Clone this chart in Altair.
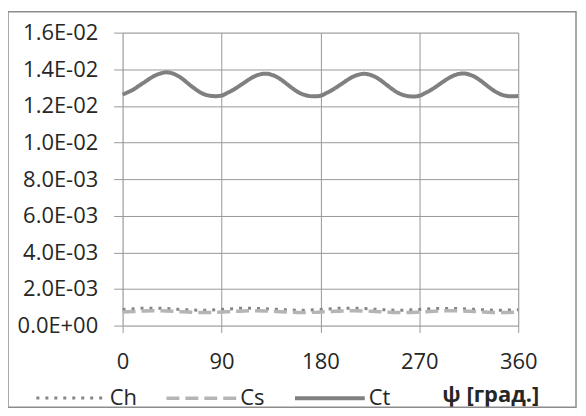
import altair as alt
import pandas as pd

# data
psi_ct = list(range(0, 365, 5))
ct_vals = [
    1.262, 1.275, 1.290, 1.310, 1.330, 1.350, 1.367, 1.378, 1.383, 1.378, 1.365, 1.345, 1.320, 1.297, 1.276, 1.262, 1.255, 1.253,
    1.256, 1.270, 1.285, 1.304, 1.324, 1.344, 1.361, 1.372, 1.376, 1.371, 1.359, 1.340, 1.317, 1.294, 1.274, 1.261, 1.254, 1.252,
    1.255, 1.269, 1.284, 1.303, 1.323, 1.343, 1.360, 1.371, 1.375, 1.370, 1.358, 1.339, 1.316, 1.293, 1.273, 1.260, 1.253, 1.251,
    1.255, 1.269, 1.285, 1.304, 1.325, 1.345, 1.362, 1.373, 1.377, 1.372, 1.360, 1.341, 1.318, 1.295, 1.275, 1.261, 1.254, 1.252,
    1.254,
]
psi_cs = list(range(0, 370, 10))
ch_vals = [
    0.88, 0.92, 0.95, 0.95, 0.93, 0.89, 0.86, 0.84, 0.85,
    0.88, 0.92, 0.95, 0.94, 0.92, 0.89, 0.86, 0.84, 0.85,
    0.88, 0.92, 0.95, 0.95, 0.93, 0.89, 0.86, 0.84, 0.85,
    0.88, 0.92, 0.94, 0.94, 0.92, 0.89, 0.86, 0.84, 0.85,
    0.86,
]
cs_vals = [
    0.74, 0.77, 0.80, 0.81, 0.80, 0.77, 0.74, 0.72, 0.72,
    0.74, 0.77, 0.80, 0.81, 0.80, 0.77, 0.74, 0.72, 0.72,
    0.74, 0.77, 0.80, 0.81, 0.80, 0.77, 0.74, 0.72, 0.72,
    0.74, 0.77, 0.80, 0.81, 0.80, 0.77, 0.74, 0.72, 0.72,
    0.73,
]
series_names = ["Ch", "Cs", "Ct"]
x_ticks = [0, 90, 180, 270, 360]
y_ticks = [0, 0.002, 0.004, 0.006, 0.008, 0.010, 0.012, 0.014, 0.016]

rows = []
for p, v in zip(psi_cs, ch_vals):
    rows.append({"psi": p, "value": v * 1e-3, "series": "Ch"})
for p, v in zip(psi_cs, cs_vals):
    rows.append({"psi": p, "value": v * 1e-3, "series": "Cs"})
for p, v in zip(psi_ct, ct_vals):
    rows.append({"psi": p, "value": v * 1e-2, "series": "Ct"})
df = pd.DataFrame(rows)

FONT = "Open Sans"
GRID = "#999999"
TXT = "#262626"


def leg():
    return alt.Legend(title=None, orient="none", legendX=-88, legendY=330,
                      direction="horizontal", symbolType="stroke", symbolSize=4900,
                      labelOffset=2, columnPadding=22, labelFont=FONT,
                      labelFontSize=22, labelColor=TXT, padding=0)


lines = alt.Chart(df).mark_line(interpolate="monotone").encode(
    x=alt.X("psi:Q", scale=alt.Scale(domain=[0, 360], nice=False),
            axis=alt.Axis(values=x_ticks, title="ψ [град.]", grid=True, gridColor=GRID,
                          domain=False, tickColor=GRID, tickSize=7, labelPadding=19,
                          labelFontSize=22, labelFont=FONT, labelColor=TXT,
                          titleFont=FONT, titleFontSize=22, titleFontWeight="bold", titleColor=TXT,
                          titleX=369, titleY=69, titleAlign="center", titleBaseline="middle",
                          labelFlush=False)),
    y=alt.Y("value:Q", scale=alt.Scale(domain=[0, 0.016], nice=False),
            axis=alt.Axis(values=y_ticks, title=None, grid=True, gridColor=GRID,
                          domain=False, tickColor=GRID, tickSize=9, labelPadding=16,
                          labelFontSize=22, labelFont=FONT, labelColor=TXT,
                          labelExpr="replace(replace(format(datum.value, '.1e'), 'e-', 'E-0'), 'e+', 'E+0')")),
    color=alt.Color("series:N", scale=alt.Scale(domain=series_names, range=["#858585", "#b5b5b5", "#808080"]),
                    legend=leg()),
    strokeDash=alt.StrokeDash("series:N", scale=alt.Scale(domain=series_names, range=[[3, 6], [13, 6], [1, 0]]),
                              legend=leg()),
    strokeWidth=alt.StrokeWidth("series:N", scale=alt.Scale(domain=series_names, range=[3, 4, 5]),
                                legend=leg()),
)

border = alt.Chart(pd.DataFrame({"a": [0]})).mark_rect(
    fillOpacity=0, stroke="#8c8c8c", strokeWidth=1.5, clip=False
).encode(x=alt.value(-115), x2=alt.value(455), y=alt.value(-21), y2=alt.value(376))

chart = alt.layer(border, lines).properties(
    width=397, height=294,
    autosize=alt.AutoSizeParams(type="none"),
    padding={"left": 115, "top": 24, "right": 60, "bottom": 84},
).configure_view(stroke=None).configure(background="white")

chart.save("out.html", embed_options={"renderer": "svg", "actions": False})
